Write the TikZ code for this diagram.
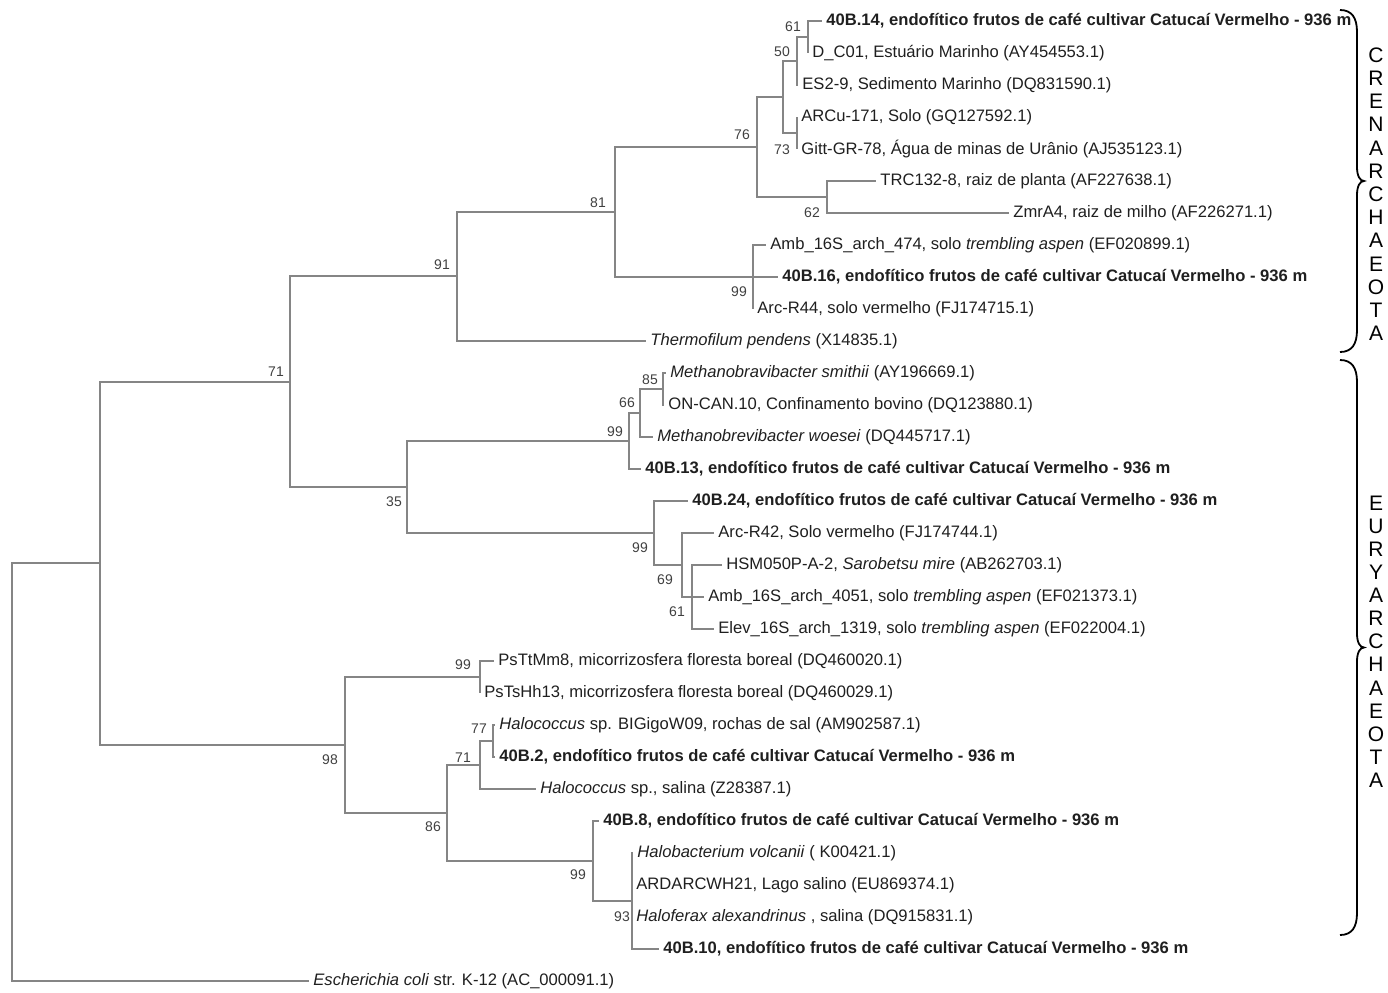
\documentclass[tikz,border=0pt]{standalone}
\usepackage{fontspec}
\setmainfont{Liberation Sans}
\definecolor{treegray}{rgb}{0.52,0.52,0.52}
\definecolor{bootgray}{rgb}{0.25,0.25,0.25}
\newcommand{\isolado}[1]{\textbf{#1, endofítico frutos de café cultivar Catucaí Vermelho - 936 m}}

\begin{document}
\begin{tikzpicture}[x=0.5pt, y=-0.5pt, font=\fontsize{8.3}{10}\selectfont,
    branch/.style={draw=treegray, line width=0.6pt},
    leaf/.style={anchor=west, inner xsep=2pt, inner ysep=1pt, text=black!88},
    boot/.style={font=\fontsize{7}{8}\selectfont, text=bootgray, inner sep=0pt},
    phylum/.style={font=\fontsize{10.5}{12}\selectfont, inner sep=0pt},
    clade/.style={line width=0.9pt}]

    \useasboundingbox (0,0) rectangle (1388,992);

    % internal nodes of the tree
    \coordinate (root) at (12,772);
    \coordinate (a) at (100,563);
    \coordinate (n71) at (290,382);
    \coordinate (n91) at (457,276);
    \coordinate (n81) at (615,212);
    \coordinate (n76) at (757,147);
    \coordinate (nx) at (783,97);
    \coordinate (n50) at (797,61);
    \coordinate (n61) at (808,37);
    \coordinate (n73) at (797,133);
    \coordinate (n62) at (827,197);
    \coordinate (n99a) at (753,277);
    \coordinate (n35) at (407,487);
    \coordinate (n99m) at (629,441);
    \coordinate (n66) at (640,413);
    \coordinate (n85) at (663,389);
    \coordinate (n99e) at (654,533);
    \coordinate (n69) at (682,565);
    \coordinate (n61b) at (692,597);
    \coordinate (n98) at (345,745);
    \coordinate (n99p) at (480,677);
    \coordinate (n86) at (447,813);
    \coordinate (n71b) at (480,765);
    \coordinate (n77) at (493,741);
    \coordinate (n99b) at (593,861);
    \coordinate (n93) at (632,901);

    % leaves, one row every 32 units
    \foreach \x/\txt [count=\i] in {
        822/{\isolado{40B.14}},
        808/{D\_C01, Estuário Marinho (AY454553.1)},
        798/{ES2-9, Sedimento Marinho (DQ831590.1)},
        797/{ARCu-171, Solo (GQ127592.1)},
        797/{Gitt-GR-78, Água de minas de Urânio (AJ535123.1)},
        876/{TRC132-8, raiz de planta (AF227638.1)},
        1009/{ZmrA4, raiz de milho (AF226271.1)},
        766/{Amb\_16S\_arch\_474, solo \textit{trembling aspen} (EF020899.1)},
        778/{\isolado{40B.16}},
        753/{Arc-R44, solo vermelho (FJ174715.1)},
        646/{\textit{Thermofilum pendens} (X14835.1)},
        666/{\textit{Methanobravibacter smithii} (AY196669.1)},
        664/{ON-CAN.10, Confinamento bovino (DQ123880.1)},
        653/{\textit{Methanobrevibacter woesei} (DQ445717.1)},
        641/{\isolado{40B.13}},
        688/{\isolado{40B.24}},
        714/{Arc-R42, Solo vermelho (FJ174744.1)},
        722/{HSM050P-A-2, \textit{Sarobetsu mire} (AB262703.1)},
        704/{Amb\_16S\_arch\_4051, solo \textit{trembling aspen} (EF021373.1)},
        714/{Elev\_16S\_arch\_1319, solo \textit{trembling aspen} (EF022004.1)},
        494/{PsTtMm8, micorrizosfera floresta boreal (DQ460020.1)},
        480/{PsTsHh13, micorrizosfera floresta boreal (DQ460029.1)},
        495/{\textit{Halococcus} sp. BIGigoW09, rochas de sal (AM902587.1)},
        495/{\isolado{40B.2}},
        536/{\textit{Halococcus} sp., salina (Z28387.1)},
        599/{\isolado{40B.8}},
        633/{\textit{Halobacterium volcanii} ( K00421.1)},
        632/{ARDARCWH21, Lago salino (EU869374.1)},
        632/{\textit{Haloferax alexandrinus} , salina (DQ915831.1)},
        659/{\isolado{40B.10}},
        309/{\textit{Escherichia coli} str. K-12 (AC\_000091.1)}} {
        \node[leaf] (l\i) at (\x,{21+32*(\i-1)}) {\txt};
    }

    % branches, parent to child
    \foreach \p/\c in {root/a, root/l31.west, a/n71, a/n98, n71/n91, n71/n35,
        n91/n81, n91/l11.west, n81/n76, n81/n99a, n76/nx, n76/n62,
        nx/n50, nx/n73, n50/n61, n50/l3.west, n61/l1.west, n61/l2.west,
        n73/l4.west, n73/l5.west, n62/l6.west, n62/l7.west,
        n99a/l8.west, n99a/l9.west, n99a/l10.west,
        n35/n99m, n35/n99e, n99m/n66, n99m/l15.west, n66/n85, n66/l14.west,
        n85/l12.west, n85/l13.west, n99e/l16.west, n99e/n69,
        n69/l17.west, n69/n61b, n61b/l18.west, n61b/l19.west, n61b/l20.west,
        n98/n99p, n98/n86, n99p/l21.west, n99p/l22.west,
        n86/n71b, n86/n99b, n71b/n77, n71b/l25.west, n77/l23.west, n77/l24.west,
        n99b/l26.west, n99b/n93, n93/l27.west, n93/l28.west, n93/l29.west, n93/l30.west} {
        \draw[branch] (\p) |- (\c);
    }

    % bootstrap values
    \foreach \x/\y/\b [count=\i] in {793/27/61, 782/52/50, 782/150/73, 742/135/76,
        812/213/62, 598/203/81, 739/292/99, 442/265/91, 276/372/71,
        650/380/85, 627/403/66, 615/432/99, 394/502/35, 640/548/99,
        665/580/69, 677/612/61, 463/665/99, 479/729/77, 463/758/71,
        330/760/98, 433/827/86, 578/875/99, 622/917/93} {
        \node[boot] (b\i) at (\x,\y) {\b};
    }

    % clade braces (top/bottom ends) and names
    \foreach \t/\b in {10/352, 360/935} {
        \pgfmathsetmacro\m{(\t+\b)/2}
        \draw[clade] (1340,\t) .. controls (1352,\t) and (1357,{\t+8}) .. (1357,{\t+22})
            -- (1357,{\m-14}) .. controls (1357,{\m-5}) and (1360,\m) .. (1364,\m)
            .. controls (1360,\m) and (1357,{\m+5}) .. (1357,{\m+14})
            -- (1357,{\b-22}) .. controls (1357,{\b-8}) and (1352,\b) .. (1340,\b);
    }
    \foreach \letter [count=\i] in {C,R,E,N,A,R,C,H,A,E,O,T,A} {
        \node[phylum] (cren\i) at (1376,{55+23.2*(\i-1)}) {\letter};
    }
    \foreach \letter [count=\i] in {E,U,R,Y,A,R,C,H,A,E,O,T,A} {
        \node[phylum] (eury\i) at (1376,{503+23.1*(\i-1)}) {\letter};
    }
\end{tikzpicture}
\end{document}
